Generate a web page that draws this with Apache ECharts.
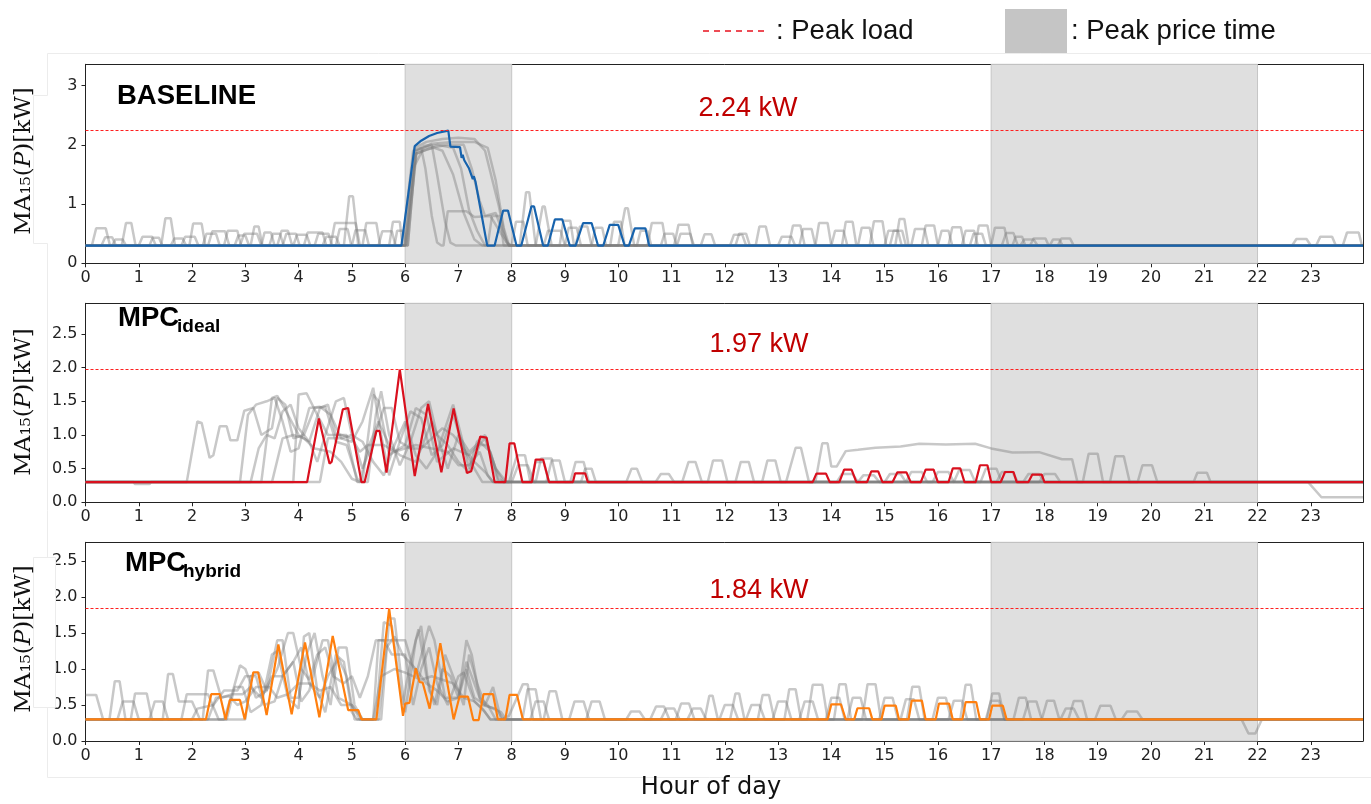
<!DOCTYPE html>
<html><head><meta charset="utf-8">
<script src="https://cdn.jsdelivr.net/npm/echarts@6/dist/echarts.min.js"></script>
<style>html,body{margin:0;padding:0;background:#fff}#c{width:1371px;height:804px}</style>
</head><body><div id="c"></div>
<script>
// ---------------- data (hour of day, kW) ----------------
const panelTitles = ['BASELINE', 'MPC', 'MPC'];
const panelSubs = ['', 'ideal', 'hybrid'];
const peakLoads = [2.24, 1.97, 1.84];
const peakLabels = ['2.24 kW', '1.97 kW', '1.84 kW'];
const peakPriceWindows = [[6, 8], [17, 22]];
const yMaxes = [3.36, 2.955, 2.76];
const yIntervals = [1, 0.5, 0.5];
const xMax = 23.98;

// highlighted runs (flat x,y lists)
const baselineMain = [0,.3, 5.93,.3, 6.18,1.98, 6.3,2.07, 6.45,2.15, 6.6,2.2, 6.81,2.24, 6.85,1.97, 7.03,1.96, 7.06,1.78, 7.08,1.83, 7.11,1.74, 7.2,1.6, 7.27,1.42, 7.29,1.47, 7.32,1.38, 7.54,.3, 7.68,.3, 7.84,.89, 7.93,.89, 8.09,.3, 8.18,.3, 8.37,.96, 8.42,.96, 8.59,.3, 8.68,.3, 8.81,.74, 8.95,.74, 9.09,.3, 9.2,.3, 9.34,.68, 9.5,.68, 9.62,.3, 9.72,.3, 9.84,.65, 10.0,.65, 10.12,.3, 10.2,.3, 10.31,.59, 10.51,.59, 10.58,.3, 23.98,.3];
const idealMain = [0,.3, 4.16,.3, 4.38,1.245, 4.58,.575, 4.62,.6, 4.83,1.38, 4.93,1.40, 5.18,.3, 5.24,.3, 5.46,1.06, 5.52,1.06, 5.65,.44, 5.9,1.97, 6.18,.39, 6.43,1.46, 6.68,.445, 6.91,1.395, 7.16,.435, 7.24,.46, 7.41,.975, 7.53,.96, 7.68,.3, 7.88,.3, 7.96,.875, 8.05,.875, 8.2,.3, 8.38,.3, 8.45,.635, 8.59,.635, 8.7,.3, 9.15,.3, 9.19,.43, 9.38,.43, 9.43,.3, 13.65,.3, 13.72,.425, 13.9,.425, 13.97,.3, 14.15,.3, 14.24,.485, 14.38,.485, 14.47,.3, 14.67,.3, 14.75,.46, 14.88,.46, 14.96,.3, 15.15,.3, 15.24,.445, 15.41,.445, 15.49,.3, 15.68,.3, 15.77,.485, 15.92,.485, 16.0,.3, 16.2,.3, 16.28,.505, 16.42,.505, 16.5,.3, 16.71,.3, 16.79,.55, 16.93,.55, 17.0,.3, 17.18,.3, 17.26,.45, 17.42,.45, 17.48,.3, 17.7,.3, 17.77,.41, 17.95,.41, 18.0,.3, 23.98,.3];
const hybridMain = [0,.3, 2.26,.3, 2.36,.65, 2.52,.65, 2.63,.3, 2.71,.57, 2.9,.57, 2.99,.3, 3.15,.955, 3.24,.955, 3.4,.36, 3.62,1.34, 3.87,.37, 4.12,1.37, 4.39,.33, 4.64,1.46, 4.93,.43, 5.12,.43, 5.18,.3, 5.46,.3, 5.70,1.84, 5.96,.35, 6.0,.52, 6.08,.53, 6.2,1.01, 6.27,.82, 6.33,.81, 6.46,.45, 6.66,1.36, 6.91,.3, 7.02,.615, 7.18,.615, 7.28,.29, 7.38,.29, 7.47,.65, 7.65,.65, 7.74,.3, 7.88,.3, 7.96,.64, 8.1,.64, 8.21,.3, 13.93,.3, 14.0,.51, 14.18,.51, 14.27,.3, 14.43,.3, 14.49,.455, 14.71,.455, 14.77,.3, 14.94,.3, 15.0,.49, 15.21,.49, 15.27,.3, 15.45,.3, 15.51,.56, 15.7,.56, 15.77,.3, 15.96,.3, 16.02,.52, 16.21,.52, 16.28,.3, 16.46,.3, 16.52,.54, 16.72,.54, 16.79,.3, 16.96,.3, 17.02,.49, 17.22,.49, 17.29,.3, 23.98,.3];

// other days (grey)
const baselineOthers = [
 [0,.3, 0.12,.3, 0.2,.59, 0.38,.59, 0.46,.3, 1.42,.3, 1.5,.76, 1.6,.76, 1.68,.3, 2.9,.3, 2.98,.5, 3.22,.5, 3.3,.3, 4.6,.3, 4.68,.68, 5.07,.68, 5.15,.3, 6.0,.3, 6.18,1.95, 6.4,2.05, 6.7,2.1, 7.0,2.12, 7.3,2.1, 7.5,1.9, 7.75,1.0, 7.9,.35, 8.0,.3, 8.15,.3, 8.27,1.2, 8.33,1.2, 8.45,.3, 11.05,.3, 11.13,.65, 11.32,.65, 11.4,.3, 13.2,.3, 13.28,.64, 13.42,.64, 13.5,.3, 15.2,.3, 15.28,.75, 15.37,.75, 15.45,.3, 17.2,.3, 17.28,.51, 17.42,.51, 17.5,.3, 22.65,.3, 22.73,.41, 22.92,.41, 23.0,.3, 23.98,.3],
 [0,.3, 0.68,.3, 0.76,.68, 0.86,.68, 0.94,.3, 1.95,.3, 2.02,.67, 2.18,.67, 2.25,.3, 3.6,.3, 3.68,.55, 3.8,.55, 3.88,.3, 4.85,.3, 4.95,1.13, 5.02,1.13, 5.12,.3, 5.7,.3, 5.77,.7, 5.9,.7, 5.95,.3, 6.05,.3, 6.2,1.9, 6.35,1.98, 6.5,2.0, 6.6,1.5, 6.75,.7, 6.85,.35, 6.95,.3, 8.45,.3, 8.58,.96, 8.62,.96, 8.75,.3, 10.0,.3, 10.13,.93, 10.18,.93, 10.3,.3, 12.58,.3, 12.65,.62, 12.77,.62, 12.85,.3, 14.2,.3, 14.27,.7, 14.4,.7, 14.47,.3, 15.7,.3, 15.77,.64, 15.93,.64, 16.0,.3, 17.73,.3, 17.8,.42, 18.02,.42, 18.08,.3, 23.1,.3, 23.18,.45, 23.4,.45, 23.47,.3, 23.98,.3],
 [0,.3, 1.0,.3, 1.07,.45, 1.25,.45, 1.32,.3, 2.3,.3, 2.38,.54, 2.62,.54, 2.7,.3, 3.3,.3, 3.36,.52, 3.48,.52, 3.55,.3, 4.3,.3, 4.37,.5, 4.56,.5, 4.63,.3, 5.2,.3, 5.27,.68, 5.46,.68, 5.53,.3, 6.0,.3, 6.2,1.85, 6.5,1.95, 6.8,2.0, 7.1,2.0, 7.25,1.6, 7.4,1.05, 7.5,.8, 7.7,.85, 7.8,.6, 7.95,.3, 8.6,.3, 8.68,.55, 8.92,.55, 9.0,.3, 10.55,.3, 10.63,.68, 10.83,.68, 10.9,.3, 13.7,.3, 13.77,.68, 13.93,.68, 14.0,.3, 14.72,.3, 14.8,.71, 14.96,.71, 15.03,.3, 16.2,.3, 16.27,.61, 16.43,.61, 16.5,.3, 18.25,.3, 18.32,.42, 18.48,.42, 18.55,.3, 23.6,.3, 23.68,.52, 23.9,.52, 23.96,.3, 23.98,.3],
 [0,.3, 0.3,.3, 0.37,.44, 0.5,.44, 0.57,.3, 1.8,.3, 1.87,.45, 2.05,.45, 2.12,.3, 2.6,.3, 2.67,.55, 2.85,.55, 2.92,.3, 3.9,.3, 3.97,.48, 4.15,.48, 4.22,.3, 5.5,.3, 5.57,.54, 5.75,.54, 5.82,.3, 5.95,.3, 6.15,1.9, 6.3,1.95, 6.38,1.6, 6.5,.8, 6.6,.35, 6.68,.3, 6.72,.3, 6.8,.88, 7.15,.88, 7.3,.78, 7.6,.8, 7.8,.5, 7.95,.3, 9.0,.3, 9.07,.6, 9.22,.6, 9.3,.3, 11.55,.3, 11.62,.49, 11.75,.49, 11.82,.3, 12.1,.3, 12.17,.48, 12.33,.48, 12.4,.3, 14.0,.3, 14.07,.55, 14.23,.55, 14.3,.3, 16.7,.3, 16.77,.64, 16.93,.64, 17.0,.3, 17.4,.3, 17.46,.45, 17.58,.45, 17.64,.3, 23.98,.3],
 [0,.3, 1.2,.3, 1.26,.43, 1.38,.43, 1.44,.3, 2.2,.3, 2.27,.5, 2.45,.5, 2.52,.3, 3.1,.3, 3.17,.62, 3.25,.62, 3.32,.3, 4.1,.3, 4.17,.52, 4.45,.52, 4.52,.3, 5.0,.3, 5.07,.56, 5.25,.56, 5.32,.3, 5.8,.3, 5.85,.55, 5.97,.55, 6.02,.3, 6.05,.3, 6.22,1.9, 6.5,2.02, 6.9,2.05, 7.3,2.05, 7.55,1.95, 7.7,1.4, 7.85,.6, 7.95,.3, 9.5,.3, 9.57,.6, 9.7,.6, 9.77,.3, 10.35,.3, 10.42,.55, 10.55,.55, 10.62,.3, 12.2,.3, 12.27,.5, 12.4,.5, 12.47,.3, 15.0,.3, 15.07,.55, 15.25,.55, 15.32,.3, 16.0,.3, 16.07,.55, 16.2,.55, 16.27,.3, 17.0,.3, 17.07,.6, 17.25,.6, 17.32,.3, 18.1,.3, 18.16,.4, 18.28,.4, 18.34,.3, 23.98,.3],
 [0,.3, 0.5,.3, 0.56,.4, 0.7,.4, 0.76,.3, 2.8,.3, 2.87,.47, 3.0,.47, 3.07,.3, 3.7,.3, 3.77,.5, 3.95,.5, 4.02,.3, 4.7,.3, 4.77,.58, 4.92,.58, 4.99,.3, 6.0,.3, 6.15,1.6, 6.35,1.95, 6.6,2.0, 6.9,1.95, 7.05,1.6, 7.2,.9, 7.35,.55, 7.5,.3, 8.9,.3, 8.97,.72, 9.1,.72, 9.17,.3, 9.85,.3, 9.92,.7, 10.05,.7, 10.12,.3, 11.1,.3, 11.17,.5, 11.35,.5, 11.42,.3, 13.0,.3, 13.07,.45, 13.25,.45, 13.32,.3, 14.5,.3, 14.57,.6, 14.72,.6, 14.79,.3, 15.5,.3, 15.57,.58, 15.75,.58, 15.82,.3, 16.45,.3, 16.52,.55, 16.68,.55, 16.75,.3, 17.55,.3, 17.62,.4, 17.8,.4, 17.87,.3, 23.98,.3],
 [0,.3, 1.6,.3, 1.67,.42, 1.82,.42, 1.89,.3, 3.45,.3, 3.52,.5, 3.65,.5, 3.72,.3, 4.45,.3, 4.52,.45, 4.7,.45, 4.77,.3, 6.05,.3, 6.2,1.85, 6.4,1.92, 6.55,1.95, 6.7,1.9, 6.9,1.5, 7.1,.85, 7.3,.4, 7.45,.3, 7.55,.3, 7.63,.8, 7.78,.8, 7.85,.3, 8.0,.3, 8.08,.7, 8.22,.7, 8.3,.3, 9.2,.3, 9.28,.62, 9.42,.62, 9.5,.3, 10.8,.3, 10.87,.5, 11.03,.5, 11.1,.3, 13.4,.3, 13.47,.58, 13.63,.58, 13.7,.3, 15.1,.3, 15.17,.55, 15.33,.55, 15.4,.3, 16.6,.3, 16.67,.5, 16.83,.5, 16.9,.3, 23.98,.3]
];
const idealOthers = [
 [0,.3, 1.9,.3, 2.1,1.2, 2.18,1.18, 2.33,.66, 2.4,.7, 2.52,1.13, 2.65,1.13, 2.72,.92, 2.85,.92, 2.98,1.36, 3.15,1.4, 3.3,1.0, 3.5,1.1, 3.6,1.55, 3.75,1.45, 3.9,.95, 4.1,1.0, 4.3,1.4, 4.5,1.42, 4.7,.9, 4.9,.85, 5.1,.35, 5.2,.3, 5.4,1.6, 5.5,1.5, 5.7,.7, 6.0,.85, 6.2,1.4, 6.4,1.3, 6.6,.6, 6.9,.8, 7.2,.7, 7.5,.95, 7.7,.5, 7.9,.3, 8.45,.3, 8.55,.65, 8.75,.65, 8.85,.3, 23.98,.3],
 [0,.3, 0.9,.3, 0.93,.27, 1.2,.27, 1.23,.3, 2.9,.3, 3.05,1.3, 3.2,1.45, 3.4,1.5, 3.55,1.55, 3.7,1.2, 3.85,.75, 4.0,.8, 4.2,1.4, 4.4,1.42, 4.6,1.3, 4.8,.95, 5.0,.9, 5.2,1.2, 5.4,1.7, 5.55,1.0, 5.7,.4, 5.9,.9, 6.1,1.35, 6.3,1.25, 6.5,.7, 6.7,.85, 6.9,1.3, 7.1,.8, 7.3,.5, 7.45,.3, 8.0,.3, 8.12,.55, 8.3,.55, 8.42,.3, 9.3,.3, 9.38,.5, 9.5,.5, 9.58,.3, 10.15,.3, 10.25,.5, 10.35,.5, 10.45,.3, 10.7,.3, 10.8,.42, 10.95,.42, 11.05,.3, 11.2,.3, 11.32,.6, 11.45,.6, 11.57,.3, 11.68,.3, 11.78,.62, 11.95,.62, 12.05,.3, 12.2,.3, 12.3,.6, 12.45,.6, 12.55,.3, 12.7,.3, 12.8,.62, 12.95,.62, 13.05,.3, 13.15,.3, 13.33,.81, 13.43,.81, 13.58,.3, 13.7,.3, 13.83,.875, 13.93,.875, 14.0,.53, 14.1,.53, 14.27,.76, 14.5,.78, 14.83,.81, 15.3,.83, 15.65,.87, 16.15,.86, 16.7,.87, 17.0,.8, 17.4,.74, 17.9,.745, 18.33,.64, 18.52,.64, 18.62,.3, 18.72,.3, 18.83,.72, 19.0,.72, 19.1,.3, 19.23,.3, 19.33,.685, 19.49,.685, 19.6,.3, 19.75,.3, 19.84,.55, 20.02,.55, 20.12,.3, 20.8,.3, 20.87,.44, 21.05,.44, 21.12,.3, 22.95,.3, 23.2,.075, 23.98,.075],
 [0,.3, 3.1,.3, 3.25,.8, 3.4,1.0, 3.55,.95, 3.7,1.35, 3.85,1.45, 4.0,1.1, 4.2,.9, 4.4,1.4, 4.55,1.45, 4.7,1.0, 4.9,1.0, 5.1,.3, 5.3,.3, 5.45,1.3, 5.55,1.65, 5.7,1.0, 5.9,.55, 6.1,.9, 6.3,1.4, 6.45,1.5, 6.6,1.0, 6.8,.5, 7.0,1.0, 7.2,.75, 7.4,.9, 7.6,.75, 7.75,.35, 7.85,.3, 8.35,.3, 8.45,.6, 8.6,.6, 8.7,.3, 9.1,.3, 9.2,.6, 9.35,.6, 9.45,.3, 23.98,.3],
 [0,.3, 3.9,.3, 4.0,1.6, 4.15,1.62, 4.35,1.3, 4.55,1.0, 4.8,1.0, 5.0,.95, 5.15,.75, 5.3,.85, 5.6,.85, 5.8,.75, 6.2,.85, 6.5,.8, 6.8,.75, 7.0,.55, 7.2,.55, 7.4,.75, 7.55,.4, 7.65,.3, 8.65,.3, 8.75,.62, 8.9,.62, 9.0,.3, 14.1,.3, 14.2,.42, 14.4,.42, 14.5,.3, 15.0,.3, 15.1,.42, 15.3,.42, 15.4,.3, 15.9,.3, 16.0,.45, 16.2,.45, 16.3,.3, 16.8,.3, 16.9,.5, 17.1,.5, 17.2,.3, 17.6,.3, 17.7,.42, 17.9,.42, 18.0,.3, 23.98,.3],
 [0,.3, 3.5,.3, 3.7,.95, 3.9,1.0, 4.1,.95, 4.3,.8, 4.6,.75, 4.8,.6, 5.0,.35, 5.15,.3, 5.3,.8, 5.5,1.2, 5.7,.85, 5.9,.7, 6.2,.6, 6.5,1.2, 6.6,1.0, 6.8,.85, 7.0,.6, 7.2,.45, 7.4,.85, 7.55,.85, 7.7,.5, 7.85,.3, 14.5,.3, 14.6,.4, 14.8,.4, 14.9,.3, 15.4,.3, 15.5,.45, 15.7,.45, 15.8,.3, 16.3,.3, 16.4,.48, 16.6,.48, 16.7,.3, 17.1,.3, 17.2,.45, 17.4,.45, 17.5,.3, 17.9,.3, 18.0,.42, 18.2,.42, 18.3,.3, 23.98,.3],
 [0,.3, 4.4,.3, 4.55,.95, 4.8,.95, 5.0,1.0, 5.2,.9, 5.4,.6, 5.6,.4, 5.8,.85, 6.0,1.2, 6.2,.7, 6.4,.5, 6.6,.75, 6.9,1.45, 7.05,1.0, 7.2,.5, 7.35,.9, 7.5,1.0, 7.65,.55, 7.75,.3, 7.95,.3, 8.1,.7, 8.25,.7, 8.35,.3, 23.98,.3],
 [0,.3, 3.3,.3, 3.5,1.55, 3.6,1.58, 3.8,1.3, 4.0,1.0, 4.2,.9, 4.35,.6, 4.5,1.0, 4.7,1.5, 4.85,1.55, 5.0,1.0, 5.2,.5, 5.4,.9, 5.6,1.4, 5.75,1.4, 5.9,.9, 6.1,.8, 6.3,.8, 6.5,.95, 6.7,1.1, 6.9,1.0, 7.1,.8, 7.3,.6, 7.5,.45, 7.65,.3, 23.98,.3]
];
const hybridOthers = [
 [0,.64, 0.2,.64, 0.33,.3, 0.45,.3, 0.55,.83, 0.64,.83, 0.75,.3, 0.85,.3, 0.93,.66, 1.15,.66, 1.25,.3, 1.45,.3, 1.55,.93, 1.64,.93, 1.75,.55, 2.0,.55, 2.15,.3, 2.2,.3, 2.3,.98, 2.4,.98, 2.55,.6, 2.75,.65, 2.9,1.05, 3.0,1.0, 3.2,.6, 3.4,.7, 3.6,1.4, 3.7,1.4, 3.85,.6, 4.0,.6, 4.15,1.2, 4.3,1.5, 4.45,.9, 4.6,.5, 4.75,1.3, 4.9,1.3, 5.05,.5, 5.2,.3, 5.45,.3, 5.6,1.65, 5.75,1.6, 5.95,.5, 6.1,1.1, 6.25,1.55, 6.4,.9, 6.55,.5, 6.7,1.0, 6.85,.9, 7.0,.6, 7.15,1.0, 7.3,.6, 7.5,.5, 7.65,.75, 7.8,.3, 8.2,.3, 8.3,.72, 8.45,.72, 8.55,.3, 23.98,.3],
 [0,.3, 1.8,.3, 1.9,.65, 2.3,.65, 2.5,.3, 2.65,.3, 2.8,.75, 2.95,.75, 3.1,.4, 3.3,.5, 3.5,1.2, 3.6,1.25, 3.8,.6, 4.0,.45, 4.1,1.45, 4.2,1.5, 4.35,.7, 4.5,.4, 4.7,1.2, 4.85,1.1, 5.0,.4, 5.1,.3, 5.55,.3, 5.7,1.7, 5.8,1.7, 6.0,.4, 6.2,1.4, 6.3,1.6, 6.45,.7, 6.6,.5, 6.75,1.2, 6.9,.9, 7.1,.5, 7.2,1.2, 7.35,.8, 7.5,.5, 7.8,.4, 7.9,.3, 8.35,.3, 8.45,.55, 8.6,.55, 8.7,.3, 10.15,.3, 10.24,.41, 10.4,.41, 10.5,.3, 11.08,.3, 11.18,.52, 11.33,.52, 11.43,.3, 12.1,.3, 12.2,.66, 12.27,.66, 12.37,.3, 13.12,.3, 13.21,.72, 13.33,.72, 13.43,.3, 14.05,.3, 14.15,.79, 14.27,.79, 14.37,.3, 15.42,.3, 15.52,.755, 15.65,.755, 15.75,.3, 16.92,.3, 17.02,.66, 17.15,.66, 17.25,.3, 18.45,.3, 18.55,.555, 18.71,.555, 18.8,.3, 23.98,.3],
 [0,.3, 0.6,.3, 0.7,.55, 0.9,.55, 1.0,.3, 1.2,.3, 1.3,.55, 1.45,.55, 1.55,.3, 2.0,.3, 2.1,.45, 2.4,.5, 2.6,.7, 2.85,.7, 3.0,.9, 3.2,.9, 3.35,.5, 3.55,.55, 3.7,.9, 3.9,1.1, 4.05,.55, 4.2,.7, 4.45,1.4, 4.55,1.4, 4.75,.6, 5.0,.5, 5.2,.3, 5.4,.3, 5.5,1.4, 6.0,1.4, 6.2,.9, 6.45,1.6, 6.55,1.4, 6.75,.6, 7.0,.6, 7.15,1.1, 7.25,.9, 7.45,.5, 7.7,.45, 7.85,.3, 8.6,.3, 8.71,.69, 8.83,.69, 8.95,.3, 10.6,.3, 10.71,.48, 10.86,.48, 10.96,.3, 11.62,.3, 11.71,.63, 11.77,.63, 11.87,.3, 12.62,.3, 12.71,.64, 12.83,.64, 12.93,.3, 13.55,.3, 13.65,.78, 13.83,.78, 13.93,.3, 14.58,.3, 14.68,.79, 14.83,.79, 14.93,.3, 16.42,.3, 16.52,.78, 16.62,.78, 16.72,.3, 17.42,.3, 17.52,.6, 17.65,.6, 17.75,.3, 18.95,.3, 19.05,.49, 19.24,.49, 19.34,.3, 23.98,.3],
 [0,.3, 2.3,.3, 2.45,.6, 2.7,.62, 2.85,.5, 3.0,.55, 3.2,.75, 3.45,.75, 3.6,.6, 3.8,.65, 4.0,.8, 4.2,.8, 4.4,.7, 4.6,.75, 4.8,.5, 5.0,.5, 5.15,.3, 5.4,.3, 5.55,.9, 5.8,1.0, 6.0,.95, 6.3,.85, 6.5,.9, 6.7,.85, 6.9,.8, 7.1,.6, 7.3,.55, 7.5,.4, 7.6,.3, 9.08,.3, 9.18,.55, 9.35,.55, 9.45,.3, 10.8,.3, 10.9,.45, 11.05,.45, 11.15,.3, 11.9,.3, 12.0,.5, 12.15,.5, 12.25,.3, 12.9,.3, 13.0,.55, 13.15,.55, 13.25,.3, 13.9,.3, 14.0,.6, 14.15,.6, 14.25,.3, 14.9,.3, 15.0,.6, 15.15,.6, 15.25,.3, 15.9,.3, 16.0,.6, 16.15,.6, 16.25,.3, 16.9,.3, 17.0,.56, 17.15,.56, 17.25,.3, 17.95,.3, 18.05,.56, 18.18,.56, 18.28,.3, 19.45,.3, 19.55,.41, 19.74,.41, 19.84,.3, 21.7,.3, 21.83,.105, 21.96,.105, 22.08,.3, 23.98,.3],
 [0,.3, 2.6,.3, 2.75,.65, 2.95,.65, 3.1,.75, 3.3,.6, 3.5,.9, 3.7,.9, 3.9,1.1, 4.05,1.3, 4.2,.8, 4.4,.6, 4.55,.9, 4.75,1.15, 4.9,.9, 5.05,.3, 5.5,.3, 5.65,1.3, 5.8,1.45, 5.95,1.2, 6.2,1.0, 6.4,.8, 6.6,.7, 6.8,.55, 7.0,.6, 7.15,1.4, 7.25,1.2, 7.4,.6, 7.55,.5, 7.7,.3, 7.8,.3, 7.95,.35, 8.21,.79, 8.3,.79, 8.4,.3, 9.4,.3, 9.5,.55, 9.65,.55, 9.75,.3, 11.3,.3, 11.4,.45, 11.55,.45, 11.65,.3, 12.4,.3, 12.5,.5, 12.65,.5, 12.75,.3, 13.4,.3, 13.5,.55, 13.65,.55, 13.75,.3, 14.3,.3, 14.4,.6, 14.55,.6, 14.65,.3, 15.3,.3, 15.4,.58, 15.55,.58, 15.65,.3, 16.2,.3, 16.3,.56, 16.45,.56, 16.55,.3, 17.6,.3, 17.7,.55, 17.85,.55, 17.95,.3, 18.3,.3, 18.4,.45, 18.55,.45, 18.65,.3, 23.98,.3],
 [0,.3, 3.0,.3, 3.1,.9, 3.25,.95, 3.4,.7, 3.6,1.0, 3.8,1.5, 3.9,1.5, 4.05,1.0, 4.2,.85, 4.35,1.2, 4.5,1.3, 4.65,.9, 4.85,.8, 5.0,.9, 5.15,.6, 5.3,.9, 5.45,1.4, 5.6,1.4, 5.75,1.2, 6.0,1.2, 6.15,.5, 6.3,1.0, 6.45,1.3, 6.6,.8, 6.8,.5, 7.0,.9, 7.1,.95, 7.3,.55, 7.45,.45, 7.6,.3, 23.98,.3]
];

const mains = [baselineMain, idealMain, hybridMain];
const others = [baselineOthers, idealOthers, hybridOthers];
const mainColors = ['#1763ad', '#d9101e', '#ff7f0e'];

// ---------------- chart ----------------
function pairs(flat) { const out = []; for (let i = 0; i < flat.length; i += 2) out.push([flat[i], flat[i + 1]]); return out; }

const gridBoxes = [{ top: 64.3, height: 199 }, { top: 303.3, height: 199 }, { top: 542.3, height: 198.7 }];
const tickFont = { fontFamily: 'DejaVu Sans', fontSize: 16, color: '#222' };

const grid = [], xAxis = [], yAxis = [], series = [];
gridBoxes.forEach((g, i) => {
  grid.push({ left: 85.5, right: 8, top: g.top, height: g.height, show: false });
  xAxis.push({
    type: 'value', gridIndex: i, min: 0, max: xMax, interval: 1,
    axisLine: { show: true, onZero: false, lineStyle: { color: '#222', width: 1 } },
    axisTick: { show: true, length: 4, lineStyle: { color: '#222' } },
    axisLabel: Object.assign({ margin: 7, showMaxLabel: false, formatter: v => String(v) }, tickFont),
    splitLine: { show: false }
  });
  xAxis.push({
    type: 'value', gridIndex: i, min: 0, max: xMax, position: 'top',
    axisLine: { show: true, onZero: false, lineStyle: { color: '#222', width: 1 } },
    axisTick: { show: false }, axisLabel: { show: false }, splitLine: { show: false }
  });
  yAxis.push({
    type: 'value', gridIndex: i, min: 0, max: yMaxes[i], interval: yIntervals[i],
    axisLine: { show: true, onZero: false, lineStyle: { color: '#222', width: 1 } },
    axisTick: { show: true, length: 4, lineStyle: { color: '#222' } },
    axisLabel: Object.assign({ margin: 8, showMaxLabel: false, formatter: v => i === 0 ? String(v) : v.toFixed(1) }, tickFont),
    splitLine: { show: false }
  });
  yAxis.push({
    type: 'value', gridIndex: i, min: 0, max: yMaxes[i], position: 'right',
    axisLine: { show: true, onZero: false, lineStyle: { color: '#222', width: 1 } },
    axisTick: { show: false }, axisLabel: { show: false }, splitLine: { show: false }
  });
  // peak-price shading
  series.push({
    type: 'line', xAxisIndex: 2 * i, yAxisIndex: 2 * i, data: [], z: 0, silent: true,
    markArea: {
      silent: true,
      itemStyle: { color: '#dfdfdf', borderColor: '#c6c6c6', borderWidth: 1 },
      data: peakPriceWindows.map(w => [{ xAxis: w[0] }, { xAxis: w[1] }])
    }
  });
  others[i].forEach(d => {
    series.push({
      type: 'line', xAxisIndex: 2 * i, yAxisIndex: 2 * i, data: pairs(d), z: 2,
      showSymbol: false, symbol: 'none', silent: true,
      lineStyle: { color: '#7d7d7d', width: 2.5, opacity: 0.42 }
    });
  });
  series.push({
    type: 'line', xAxisIndex: 2 * i, yAxisIndex: 2 * i, data: pairs(mains[i]), z: 4,
    showSymbol: false, symbol: 'none', silent: true,
    lineStyle: { color: mainColors[i], width: 2.2 }
  });
  // peak load line
  series.push({
    type: 'line', xAxisIndex: 2 * i, yAxisIndex: 2 * i, data: [], z: 6, silent: true,
    markLine: {
      silent: true, symbol: 'none', label: { show: false }, animation: false,
      lineStyle: { color: '#ff1f1f', type: [3, 2], width: 1, opacity: 1 },
      emphasis: { disabled: true },
      data: [{ yAxis: peakLoads[i] }]
    }
  });
});

const graphic = [];
// faint framing lines of the composed figure
graphic.push({ type: 'polyline', shape: { points: [[1371, 53.5], [47.5, 53.5], [47.5, 95.5], [33.5, 95.5], [33.5, 243.5], [47.5, 243.5], [47.5, 777.5], [1371, 777.5]] }, style: { stroke: '#ececec', fill: null, lineWidth: 1 }, z: 50, silent: true });
// legend
graphic.push({ type: 'line', shape: { x1: 703, y1: 31, x2: 766, y2: 31 }, style: { stroke: '#e8101e', lineWidth: 1.5, lineDash: [6, 5] }, z: 60 });
graphic.push({ type: 'text', x: 776, y: 31, style: { text: ': Peak load', fontFamily: 'Liberation Sans', fontSize: 27.5, fill: '#111', textVerticalAlign: 'middle', verticalAlign: 'middle' }, z: 60 });
graphic.push({ type: 'rect', shape: { x: 1005, y: 9, width: 62, height: 44 }, style: { fill: '#c5c5c5' }, z: 60 });
graphic.push({ type: 'text', x: 1071, y: 31, style: { text: ': Peak price time', fontFamily: 'Liberation Sans', fontSize: 27.5, fill: '#111', textVerticalAlign: 'middle', verticalAlign: 'middle' }, z: 60 });

// panel titles
const titlePos = [[117, 96], [118, 318], [125, 563]];
const subPos = [null, [177, 327], [183, 572]];
panelTitles.forEach((t, i) => {
  graphic.push({ type: 'text', x: titlePos[i][0], y: titlePos[i][1], style: { text: t, fontFamily: 'Liberation Sans', fontWeight: 'bold', fontSize: 27.5, fill: '#000', verticalAlign: 'middle', textVerticalAlign: 'middle' }, z: 60 });
  if (panelSubs[i]) graphic.push({ type: 'text', x: subPos[i][0], y: subPos[i][1], style: { text: panelSubs[i], fontFamily: 'Liberation Sans', fontWeight: 'bold', fontSize: 19, fill: '#000', verticalAlign: 'middle', textVerticalAlign: 'middle' }, z: 60 });
});

// peak labels
const peakLabelPos = [[748, 109], [759, 345], [759, 591]];
peakLabels.forEach((t, i) => {
  graphic.push({ type: 'text', x: peakLabelPos[i][0], y: peakLabelPos[i][1], style: { text: t, fontFamily: 'Liberation Sans', fontSize: 27, fill: '#c00000', align: 'center', textAlign: 'center', verticalAlign: 'middle', textVerticalAlign: 'middle' }, z: 60 });
});

// cover box over third panel tick labels (as in the composed source)
graphic.push({ type: 'rect', zlevel: 1, shape: { x: 33.5, y: 557.5, width: 22, height: 150 }, style: { fill: '#fff', stroke: '#ececec', lineWidth: 1 }, z: 70 });

// y-axis titles
const yLabelCenters = [161, 402, 639];
yLabelCenters.forEach(cy => {
  graphic.push({
    type: 'text', x: 24, y: cy, rotation: Math.PI / 2, z: 80, zlevel: 1,
    style: {
      text: '{a|MA₁₅(}{i|P}{a|)[kW]}', align: 'center', textAlign: 'center', verticalAlign: 'middle', textVerticalAlign: 'middle',
      rich: {
        a: { fontFamily: 'DejaVu Serif', fontSize: 23, fill: '#111', color: '#111' },
        i: { fontFamily: 'DejaVu Serif', fontStyle: 'italic', fontSize: 23, fill: '#111', color: '#111' }
      }
    }
  });
});

// x-axis title
graphic.push({ type: 'text', x: 711, y: 788, style: { text: 'Hour of day', fontFamily: 'DejaVu Sans', fontSize: 24, fill: '#111', align: 'center', textAlign: 'center', verticalAlign: 'middle', textVerticalAlign: 'middle' }, z: 60 });

const chart = echarts.init(document.getElementById('c'), null, { renderer: 'canvas' });
chart.setOption({ animation: false, backgroundColor: '#fff', grid, xAxis, yAxis, series, graphic });
</script></body></html>
